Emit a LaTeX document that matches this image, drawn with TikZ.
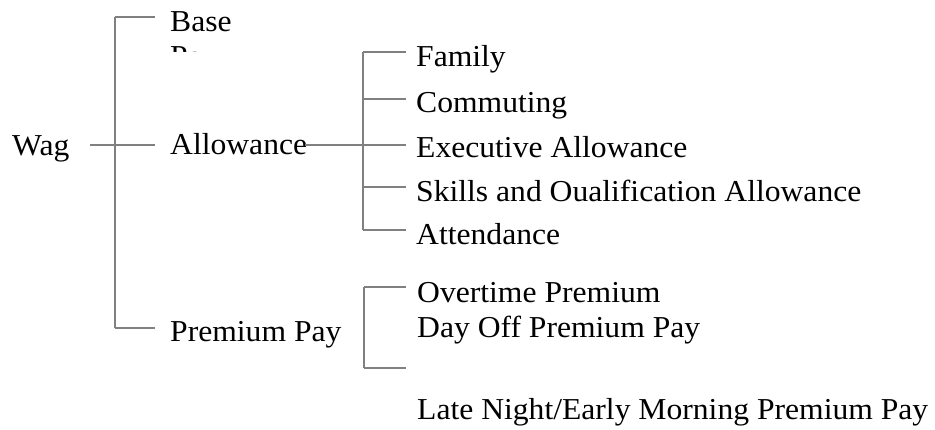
\documentclass[tikz,border=0pt]{standalone}
\usepackage{fontspec}
\setmainfont[FakeStretch=1.04]{Liberation Serif}
\definecolor{linegray}{RGB}{128,128,128}
\begin{document}
\begin{tikzpicture}[x=1pt,y=-1pt,
  lbl/.style={anchor=base west,inner sep=0pt,font=\fontsize{30.4}{36}\selectfont},
  conn/.style={draw=linegray,line width=1.4pt}]
\useasboundingbox (0,0) rectangle (935,430);
% labels
\node [lbl] (wage) at (12,156) {Wag};
\node [lbl] (base) at (170,32) {Base};
\begin{scope}
\clip (150,36) rectangle (300,52);
\node [lbl] (basepay) at (170,67) {Pay};
\end{scope}
\node [lbl] (allow) at (170,155) {Allowance};
\node [lbl] (prem) at (170,342) {Premium Pay};
%
\node [lbl] (fam) at (416,67) {Family};
\node [lbl] (comm) at (416,113) {Commuting};
\node [lbl] (exec) at (416,158) {Executive Allowance};
\node [lbl] (skill) at (416,202) {Skills and Oualification Allowance};
\node [lbl] (att) at (416,245) {Attendance};
%
\node [lbl] (over) at (417,303) {Overtime Premium};
\node [lbl] (dayoff) at (417,338) {Day Off Premium Pay};
\node [lbl] (late) at (417,420) {Late Night/Early Morning Premium Pay};
% bracket joints
\coordinate (m1) at (115,17);
\coordinate (m2) at (115,145);
\coordinate (m3) at (115,328);
\coordinate (a1) at (363,52);
\coordinate (a2) at (363,99);
\coordinate (a3) at (363,145);
\coordinate (a4) at (363,187);
\coordinate (a5) at (363,230);
\coordinate (p1) at (364,287);
\coordinate (p2) at (364,368);
%
\draw [conn] (m1) -- (m3);
\draw [conn] ([xshift=20pt]wage.east |- m2) -- ([xshift=40pt]m2);
\draw [conn] (m1) -- ++(40,0);
\draw [conn] (m3) -- ++(40,0);
\draw [conn] ([xshift=-2pt]allow.east |- a3) -- (a3) -- ++(43,0);
\draw [conn] (a1) -- (a5);
\foreach \j in {a1,a2,a4,a5}
  \draw [conn] (\j) -- ++(43,0);
\draw [conn] (p1) -- (p2);
\draw [conn] (p1) -- ++(42,0);
\draw [conn] (p2) -- ++(42,0);
\end{tikzpicture}
\end{document}
